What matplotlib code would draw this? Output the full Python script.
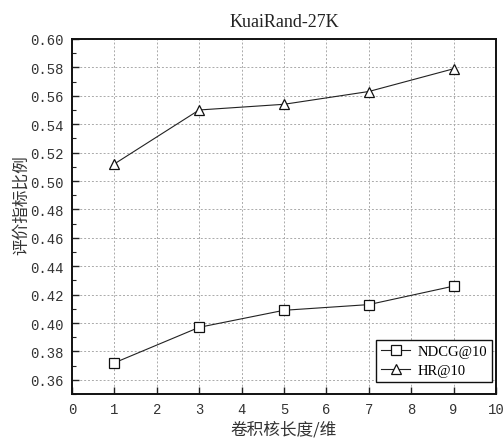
import numpy as np
import matplotlib
matplotlib.use("Agg")
import matplotlib.pyplot as plt
from matplotlib.ticker import MultipleLocator, FormatStrFormatter

# ── data ──────────────────────────────────────────────────────────────────────
kernel_len = [1, 3, 5, 7, 9]
ndcg10     = [0.372, 0.397, 0.409, 0.413, 0.426]
hr10       = [0.512, 0.550, 0.554, 0.563, 0.579]

CJK   = ["Noto Sans CJK SC", "DejaVu Sans"]
SERIF = "Liberation Serif"
MONO  = "Liberation Mono"

fig = plt.figure(figsize=(5.03, 4.39), dpi=100)
ax = fig.add_axes([0.143, 0.100, 0.843, 0.809])

ax.plot(kernel_len, ndcg10, color="#222", lw=0.8, marker="s", ms=6.5,
        mfc="white", mec="#111", mew=0.9, label="NDCG@10", zorder=3)
ax.plot(kernel_len, hr10, color="#222", lw=0.8, marker="^", ms=7.5,
        mfc="white", mec="#111", mew=0.9, label="HR@10", zorder=3)

ax.set_xlim(0, 10); ax.set_ylim(0.35, 0.60)
ax.xaxis.set_major_locator(MultipleLocator(1))
ax.yaxis.set_major_locator(MultipleLocator(0.02))
ax.yaxis.set_minor_locator(MultipleLocator(0.01))
ax.yaxis.set_major_formatter(FormatStrFormatter("%.2f"))
ax.tick_params(which="both", direction="in", top=False, right=False, colors="#222")
ax.tick_params(which="major", length=5, width=1, labelsize=10, pad=6)
ax.tick_params(which="minor", length=3, width=0.8)
for lab in ax.get_xticklabels() + ax.get_yticklabels():
    lab.set_family(MONO); lab.set_color("#333")
for s in ax.spines.values():
    s.set_linewidth(1.4); s.set_edgecolor("#111")

ax.grid(True, which="major", ls=(0, (2, 2)), lw=0.7, color="#aaa")

ax.set_title("KuaiRand-27K", family=SERIF, fontsize=13, pad=9, color="#222")
ax.set_xlabel("卷积核长度/维", family=CJK, fontsize=12, color="#333", labelpad=3)
ax.set_ylabel("评价指标比例", family=CJK, fontsize=12, color="#333")
ax.yaxis.set_label_coords(-0.098, 0.535)

leg = ax.legend(loc="lower right", bbox_to_anchor=(0.991, 0.034),
                prop={"family": SERIF, "size": 10.5},
                frameon=True, fancybox=False, edgecolor="#111", framealpha=1,
                borderpad=0.35, borderaxespad=0, handlelength=2.0,
                handletextpad=0.5, labelspacing=0.4)
leg.get_frame().set_linewidth(1.0)

plt.savefig("out.png", dpi=100)
